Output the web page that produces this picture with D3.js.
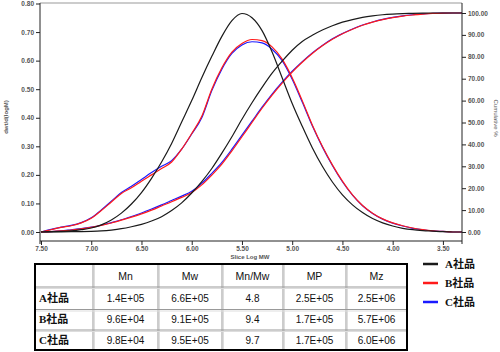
<!DOCTYPE html>
<html>
<head>
<meta charset="utf-8">
<script src="https://cdn.jsdelivr.net/npm/d3@7"></script>
<style>
  body { margin: 0; background: #fff; }
  svg { display: block; }
</style>
</head>
<body>
<svg id="chart" width="500" height="352"></svg>
<script>
// slice log MW (x), every 0.1
var logM = [7.5, 7.4, 7.3, 7.2, 7.1, 7.0, 6.9, 6.8, 6.7, 6.6, 6.5, 6.4, 6.3, 6.2, 6.1, 6.0,
  5.9, 5.8, 5.7, 5.6, 5.5, 5.4, 5.3, 5.2, 5.1, 5.0,
  4.9, 4.8, 4.7, 4.6, 4.5, 4.4, 4.3, 4.2, 4.1, 4.0,
  3.9, 3.8, 3.7, 3.6, 3.5, 3.4, 3.3];

// dwt/d(logM)
var diffA = [0, 0.001, 0.002, 0.004, 0.008, 0.014, 0.025, 0.042, 0.066, 0.098, 0.138, 0.188, 0.245, 0.31, 0.385, 0.46,
  0.54, 0.615, 0.685, 0.74, 0.765, 0.75, 0.705, 0.63, 0.54, 0.45,
  0.37, 0.295, 0.23, 0.175, 0.13, 0.095, 0.068, 0.047, 0.032, 0.021,
  0.013, 0.008, 0.005, 0.003, 0.001, 0, 0];
var diffB = [0, 0.008, 0.016, 0.022, 0.032, 0.048, 0.075, 0.105, 0.135, 0.155, 0.178, 0.2, 0.222, 0.245, 0.29, 0.345,
  0.405, 0.5, 0.575, 0.63, 0.66, 0.674, 0.67, 0.648, 0.605, 0.54,
  0.46, 0.375, 0.3, 0.235, 0.178, 0.13, 0.093, 0.066, 0.046, 0.032,
  0.022, 0.014, 0.008, 0.004, 0.002, 0, 0];
var diffC = [0, 0.009, 0.017, 0.023, 0.033, 0.05, 0.077, 0.108, 0.138, 0.16, 0.184, 0.208, 0.23, 0.25, 0.29, 0.343,
  0.4, 0.495, 0.57, 0.625, 0.655, 0.666, 0.662, 0.64, 0.6, 0.535,
  0.455, 0.372, 0.298, 0.233, 0.176, 0.129, 0.092, 0.065, 0.045, 0.031,
  0.021, 0.013, 0.008, 0.004, 0.002, 0, 0];

// Cumulative %
var cumA = [0, 0.05, 0.1, 0.15, 0.2, 0.3, 0.5, 0.9, 1.5, 2.4, 3.5, 5.0, 7.0, 9.8, 13.3, 17.8,
  23, 29, 36, 43.5, 51.5, 59, 66, 72.5, 78, 83,
  87, 89.8, 92.2, 94.2, 95.8, 97, 98, 98.7, 99.2, 99.5,
  99.7, 99.85, 99.95, 100, 100, 100, 100];
var cumB = [0, 0.2, 0.5, 0.9, 1.4, 2.1, 3.0, 4.1, 5.4, 6.8, 8.3, 10, 11.9, 13.8, 15.8, 18,
  21.5, 26, 31, 37, 43.5, 50, 56.5, 62.5, 68, 73,
  77.5, 81.5, 85, 88, 90.5, 92.6, 94.4, 95.8, 97, 97.9,
  98.6, 99.1, 99.5, 99.8, 99.95, 100, 100];
var cumC = [0, 0.2, 0.5, 1.0, 1.5, 2.2, 3.1, 4.3, 5.6, 7.1, 8.7, 10.5, 12.4, 14.4, 16.4, 18.6,
  22.2, 26.8, 31.8, 37.8, 44.2, 50.6, 57, 63, 68.4, 73.4,
  77.8, 81.8, 85.2, 88.2, 90.6, 92.7, 94.5, 95.9, 97.1, 98,
  98.7, 99.2, 99.6, 99.8, 99.95, 100, 100];

// axis ticks
var xTicks = [7.5, 7.0, 6.5, 6.0, 5.5, 5.0, 4.5, 4.0, 3.5];
var leftTicks = [0, 0.1, 0.2, 0.3, 0.4, 0.5, 0.6, 0.7, 0.8];
var rightTicks = [0, 10, 20, 30, 40, 50, 60, 70, 80, 90, 100];

// table
var columns = ["Mn", "Mw", "Mn/Mw", "MP", "Mz"];
var products = ["A社品", "B社品", "C社品"];
var mnVals = ["1.4E+05", "9.6E+04", "9.8E+04"];
var mwVals = ["6.6E+05", "9.1E+05", "9.5E+05"];
var dispVals = ["4.8", "9.4", "9.7"];
var mpVals = ["2.5E+05", "1.7E+05", "1.7E+05"];
var mzVals = ["2.5E+06", "5.7E+06", "6.0E+06"];
var colors = ["#1a1a1a", "#ff1a1a", "#1a1aff"];

var svg = d3.select("#chart");

var x = d3.scaleLinear().domain([7.51, 3.31]).range([40, 462]);
var yL = d3.scaleLinear().domain([0, 0.8]).range([232, 3.5]);
var yR = d3.scaleLinear().domain([0, 100]).range([232, 13]);

var tickFont = "Liberation Sans, Arial, sans-serif";

// plot frame (top gray line)
svg.append("line").attr("x1", 40).attr("x2", 462).attr("y1", 3).attr("y2", 3)
  .attr("stroke", "#999").attr("stroke-width", 1);

svg.append("clipPath").attr("id", "plotclip")
  .append("rect").attr("x", 40).attr("y", 2).attr("width", 422).attr("height", 240);

var plot = svg.append("g").attr("clip-path", "url(#plotclip)");

var lineDiff = d3.line()
  .x(function(d, i) { return x(logM[i]); })
  .y(function(d) { return yL(d); })
  .curve(d3.curveMonotoneX);
var lineCum = d3.line()
  .x(function(d, i) { return x(logM[i]); })
  .y(function(d) { return yR(d); })
  .curve(d3.curveMonotoneX);

// blue under, red over, black
[[diffC, cumC, colors[2]], [diffB, cumB, colors[1]], [diffA, cumA, colors[0]]].forEach(function(s) {
  plot.append("path").datum(s[0])
    .attr("fill", "none").attr("stroke", s[2]).attr("stroke-width", 1.2)
    .attr("stroke-linejoin", "round").attr("d", lineDiff);
  plot.append("path").datum(s[1])
    .attr("fill", "none").attr("stroke", s[2]).attr("stroke-width", 1.2)
    .attr("stroke-linejoin", "round").attr("d", lineCum);
});

function styleAxis(g) {
  g.select(".domain").attr("stroke", "#222");
  g.selectAll(".tick line").attr("stroke", "#222");
  g.selectAll("text").attr("font-family", tickFont).attr("font-size", 6.5)
    .attr("font-weight", "bold").attr("fill", "#555");
}

// left axis
var gl = svg.append("g").attr("transform", "translate(40,0)");
gl.call(d3.axisLeft(yL).tickValues(d3.range(0, 0.801, 0.02)).tickSize(2).tickFormat(""));
gl.call(d3.axisLeft(yL).tickValues(leftTicks).tickSize(4).tickPadding(2).tickFormat(d3.format(".2f")));
gl.select(".domain").remove();
gl.append("line").attr("x1", 0).attr("x2", 0).attr("y1", 3).attr("y2", 244).attr("stroke", "#222");
styleAxis(gl);

// right axis
var gr = svg.append("g").attr("transform", "translate(462,0)");
gr.call(d3.axisRight(yR).tickValues(d3.range(0, 100.1, 2)).tickSize(2).tickFormat(""));
gr.call(d3.axisRight(yR).tickValues(rightTicks).tickSize(4).tickPadding(2).tickFormat(d3.format(".2f")));
gr.select(".domain").remove();
gr.append("line").attr("x1", 0).attr("x2", 0).attr("y1", 3).attr("y2", 244).attr("stroke", "#222");
styleAxis(gr);

// bottom axis
var gb = svg.append("g").attr("transform", "translate(0,241)");
gb.call(d3.axisBottom(x).tickValues(d3.range(3.4, 7.51, 0.1)).tickSize(2).tickFormat(""));
gb.call(d3.axisBottom(x).tickValues(xTicks).tickSize(4).tickPadding(1).tickFormat(d3.format(".2f")));
gb.select(".domain").remove();
gb.append("line").attr("x1", 40).attr("x2", 462).attr("y1", 0).attr("y2", 0).attr("stroke", "#222");
styleAxis(gb);

// axis titles
svg.append("text").attr("transform", "translate(8,117) rotate(-90)")
  .attr("text-anchor", "middle").attr("font-family", tickFont).attr("font-size", 6)
  .attr("font-weight", "bold").attr("fill", "#555").text("dwt/d(logM)");
svg.append("text").attr("transform", "translate(494,118) rotate(90)")
  .attr("text-anchor", "middle").attr("font-family", tickFont).attr("font-size", 6)
  .attr("fill", "#555").text("Cumulative %");
svg.append("text").attr("x", 250).attr("y", 259)
  .attr("text-anchor", "middle").attr("font-family", tickFont).attr("font-size", 6)
  .attr("font-weight", "bold").attr("fill", "#555").text("Slice Log MW");

// table
var colX = [35, 93, 158, 222, 283, 346, 407];
var rowY = [264, 287, 309.5, 330, 350];
var tbl = svg.append("g");
colX.slice(1, -1).forEach(function(cx) {
  tbl.append("line").attr("x1", cx).attr("x2", cx).attr("y1", rowY[0]).attr("y2", rowY[4])
    .attr("stroke", "#999").attr("stroke-width", 1);
  tbl.append("line").attr("x1", cx + 1.5).attr("x2", cx + 1.5).attr("y1", rowY[0]).attr("y2", rowY[4])
    .attr("stroke", "#ddd").attr("stroke-width", 1);
});
rowY.slice(1, -1).forEach(function(ry) {
  tbl.append("line").attr("x1", colX[0]).attr("x2", colX[6]).attr("y1", ry).attr("y2", ry)
    .attr("stroke", "#999").attr("stroke-width", 1);
  tbl.append("line").attr("x1", colX[0]).attr("x2", colX[6]).attr("y1", ry + 1.5).attr("y2", ry + 1.5)
    .attr("stroke", "#ddd").attr("stroke-width", 1);
});
tbl.append("rect").attr("x", colX[0]).attr("y", rowY[0])
  .attr("width", colX[6] - colX[0]).attr("height", rowY[4] - rowY[0])
  .attr("fill", "none").attr("stroke", "#000").attr("stroke-width", 2);

columns.forEach(function(c, i) {
  tbl.append("text").attr("x", (colX[i + 1] + colX[i + 2]) / 2).attr("y", (rowY[0] + rowY[1]) / 2 + 4)
    .attr("text-anchor", "middle").attr("font-family", tickFont).attr("font-size", 10.5)
    .attr("fill", "#111").text(c);
});
var cols = [mnVals, mwVals, dispVals, mpVals, mzVals];
products.forEach(function(p, r) {
  var cy = (rowY[r + 1] + rowY[r + 2]) / 2 + 3.5;
  tbl.append("text").attr("x", 39).attr("y", cy)
    .attr("font-family", "Liberation Serif, Noto Sans CJK JP, serif").attr("font-size", 11)
    .attr("font-weight", "bold").attr("fill", "#111").text(p);
  cols.forEach(function(vals, i) {
    tbl.append("text").attr("x", (colX[i + 1] + colX[i + 2]) / 2).attr("y", cy)
      .attr("text-anchor", "middle").attr("font-family", tickFont).attr("font-size", 10)
      .attr("fill", "#111").text(vals[r]);
  });
});

// legend
var legY = [264, 283, 302];
products.forEach(function(p, i) {
  svg.append("line").attr("x1", 423).attr("x2", 438).attr("y1", legY[i]).attr("y2", legY[i])
    .attr("stroke", colors[i]).attr("stroke-width", 2.5);
  svg.append("text").attr("x", 445).attr("y", legY[i] + 4)
    .attr("font-family", "Liberation Serif, Noto Sans CJK JP, serif").attr("font-size", 11)
    .attr("font-weight", "bold").attr("fill", "#111").text(p);
});
</script>
</body>
</html>
